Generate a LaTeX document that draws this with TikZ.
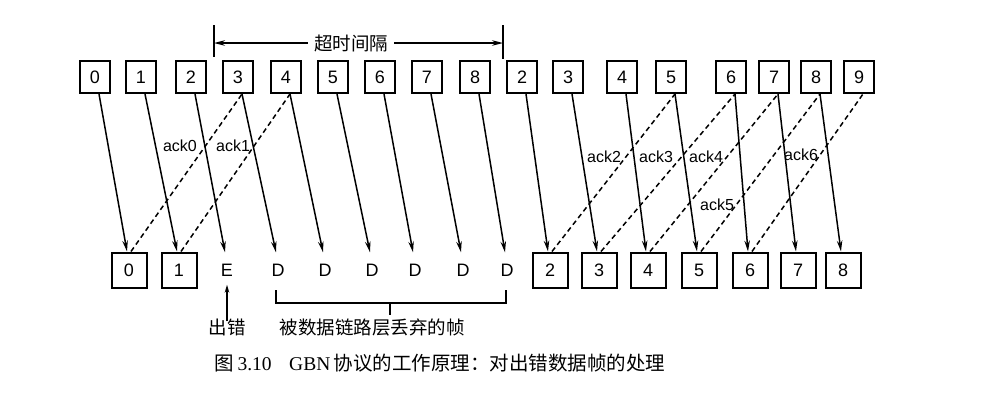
\documentclass[tikz,border=0pt]{standalone}
\usepackage{fontspec}
\setmainfont{Liberation Serif}
\newfontfamily\lab{Liberation Sans}
\newfontfamily\cjk{Noto Sans CJK SC}
\usetikzlibrary{arrows.meta}
\begin{document}
\begin{tikzpicture}[x=1pt,y=-1pt,
  tbox/.style={draw,line width=2pt,minimum width=30pt,minimum height=32pt,inner sep=0pt,font=\lab\fontsize{18}{18}\selectfont},
  bbox/.style={draw,line width=2pt,minimum width=35pt,minimum height=35pt,inner sep=0pt,font=\lab\fontsize{18}{18}\selectfont},
  letter/.style={minimum height=35pt,inner sep=0pt,font=\lab\fontsize{18}{18}\selectfont},
  msg/.style={line width=1.5pt,-{Stealth[length=11pt,width=5.5pt]}},
  ackline/.style={line width=1.5pt,dash pattern=on 5pt off 3.5pt},
  lbl/.style={inner sep=1pt,font=\lab\fontsize{16}{16}\selectfont},
  cjklbl/.style={inner sep=0pt,font=\cjk\fontsize{18.5}{18.5}\selectfont},
  plain/.style={line width=1.5pt}]
\useasboundingbox (0,0) rectangle (988,408);
% top row
\foreach \n/\x/\t in {t0/95/0,t1/141/1,t2/191/2,t3/238/3,t4/286/4,t5/333/5,t6/380/6,t7/427/7,t8/475/8,
  u2/522/2,u3/568/3,u4/622/4,u5/671/5,u6/731/6,u7/774/7,u8/816/8,u9/859/9}
  \node[tbox] (\n) at (\x,77) {\t};
% bottom row
\foreach \n/\x/\t in {b0/129/0,b1/179/1,c2/550/2,c3/599/3,c4/648/4,c5/699/5,c6/750/6,c7/798/7,c8/843/8}
  \node[bbox] (\n) at (\x,270) {\t};
\node[letter] (e) at (227,270) {E};
\foreach \n/\x in {d1/278,d2/325,d3/372,d4/415,d5/463,d6/507}
  \node[letter] (\n) at (\x,270) {D};
% frames
\foreach \s/\d in {t0/b0,t1/b1,t2/e,t3/d1,t4/d2,t5/d3,t6/d4,t7/d5,t8/d6,
  u2/c2,u3/c3,u4/c4,u5/c5,u6/c6,u7/c7,u8/c8}
  \draw[msg] ([xshift=4pt]\s.south) -- ([xshift=-2pt]\d.north);
% acks
\foreach \s/\d in {b0/t3,b1/t4,c2/u5,c3/u6,c4/u7,c5/u8,c6/u9}
  \draw[ackline] ([xshift=2pt]\s.north) -- ([xshift=4pt]\d.south);
\node[lbl] (a0) at (180,146) {ack0};
\node[lbl] (a1) at (233,146) {ack1};
\node[lbl] (a2) at (604,157) {ack2};
\node[lbl] (a3) at (656,157) {ack3};
\node[lbl] (a4) at (706,157) {ack4};
\node[lbl] (a5) at (717,205) {ack5};
\node[lbl] (a6) at (801,155) {ack6};
% timeout interval
\coordinate (tlA) at (214,25);
\coordinate (tlB) at (214,57);
\coordinate (trA) at (503,25);
\coordinate (trB) at (503,59);
\coordinate (tlM) at (214,43);
\coordinate (trM) at (503,43);
\draw[plain] (tlA) -- (tlB);
\draw[plain] (trA) -- (trB);
\node[cjklbl] (tto) at (351,43) {超时间隔};
\draw[plain,-{Stealth[length=11pt,width=5.5pt]}] ([xshift=-6pt]tto.west) -- (tlM);
\draw[plain,-{Stealth[length=11pt,width=5.5pt]}] ([xshift=6pt]tto.east) -- (trM);
% error marker
\node[cjklbl] (err) at (227,327) {出错};
\draw[plain,-{Stealth[length=8pt,width=4.5pt]}] ([yshift=-3pt]err.north) -- ([yshift=3pt]e.south);
% discarded bracket
\coordinate (bl1) at (276,290);
\coordinate (bl2) at (276,303);
\coordinate (br1) at (506,290);
\coordinate (br2) at (506,303);
\coordinate (bm1) at (390,303);
\coordinate (bm2) at (390,315);
\draw[plain] (bl1) -- (bl2) -- (br2) -- (br1);
\draw[plain] (bm1) -- (bm2);
\node[cjklbl] (disc) at (372,327) {被数据链路层丢弃的帧};
% caption
\node[inner sep=0pt,font=\fontsize{19.5}{19.5}\selectfont] (cap) at (440,363)
  {{\cjk 图}\,3.10\hspace{0.9em}GBN\,{\cjk 协议的工作原理：对出错数据帧的处理}};
\end{tikzpicture}
\end{document}
